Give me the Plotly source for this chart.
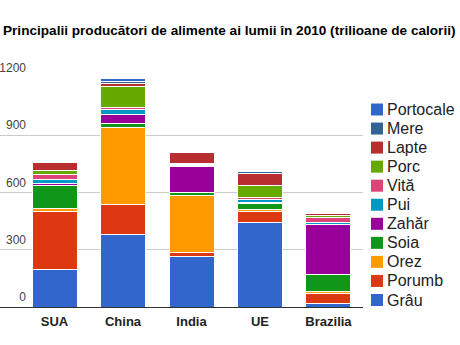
import plotly.graph_objects as go

categories = ["SUA", "China", "India", "UE", "Brazilia"]
series_names = ["Grâu", "Porumb", "Orez", "Soia", "Zahăr", "Pui", "Vită", "Porc", "Lapte", "Mere", "Portocale"]
grau = [196, 379, 264, 445, 16]
porumb = [302, 157, 21, 58, 54]
orez = [17, 407, 300, 7, 10]
soia = [120, 21, 14, 35, 89]
zahar = [10, 47, 136, 4, 262]
pui = [25, 23, 4, 12, 14]
vita = [23, 9, 7, 15, 23]
porc = [24, 110, 7, 60, 11]
lapte = [42, 16, 59, 66, 10]
mere = [5, 15, 3, 7, 4]
portocale = [5, 11, 2, 7, 5]
series_values = [grau, porumb, orez, soia, zahar, pui, vita, porc, lapte, mere, portocale]
colors = ["#3366cc", "#dc3912", "#ff9900", "#109618", "#990099", "#0099c6",
          "#dd4477", "#66aa00", "#b82e2e", "#316395", "#3366cc"]
y_tickvals = [0, 300, 600, 900, 1200]
y_ticktext = ["0", "300", "600", "900", "1200"]
title_text = "Principalii producători de alimente ai lumii în 2010 (trilioane de calorii)"

W, H = 460, 345
ML, MR, MT, MB = 0, 97, 78, 38
PW = W - ML - MR
PH = H - MT - MB
FONT = "Liberation Sans, Arial, sans-serif"

fig = go.Figure()
for name, vals, col in zip(series_names, series_values, colors):
    fig.add_trace(go.Bar(
        x=categories, y=vals, name=name,
        marker=dict(color=col, line=dict(color="white", width=1)),
        showlegend=False,
    ))

# custom legend (Google-charts style, tight spacing)
shapes = []
annotations = []
items = list(zip(series_names, colors))[::-1]
y0px = 109.5
step = 19.05
for i, (name, col) in enumerate(items):
    yc = y0px + step * i
    shapes.append(dict(
        type="rect", xref="paper", yref="paper",
        x0=(371 - ML) / PW, x1=(383 - ML) / PW,
        y0=(MT + PH - (yc + 6)) / PH, y1=(MT + PH - (yc - 6)) / PH,
        fillcolor=col, line=dict(width=0),
    ))
    annotations.append(dict(
        xref="paper", yref="paper", x=(385.5 - ML) / PW, y=(MT + PH - yc) / PH,
        xanchor="left", yanchor="middle", text=name, showarrow=False,
        font=dict(family=FONT, size=16, color="#222222"),
    ))

fig.update_layout(
    width=W, height=H,
    margin=dict(l=ML, r=MR, t=MT, b=MB, pad=0),
    paper_bgcolor="white", plot_bgcolor="white",
    barmode="stack", bargap=0.343,
    title=dict(text="<b>" + title_text + "</b>", x=3 / W, xanchor="left", xref="container",
               y=1 - 30.7 / H, yanchor="middle", yref="container",
               font=dict(family=FONT, size=13.6, color="#000000")),
    shapes=shapes, annotations=annotations,
    xaxis=dict(
        range=[-0.796, 4.504], showgrid=False, zeroline=False,
        showline=True, linecolor="#333333", linewidth=1,
        ticks="", tickfont=dict(family=FONT, size=13, color="#222222", weight="bold"),
        ticklabelstandoff=2, automargin=False,
    ),
    yaxis=dict(
        range=[0, 1200], tickvals=y_tickvals, ticktext=y_ticktext,
        showgrid=True, gridcolor="#cccccc", gridwidth=1, zeroline=False,
        ticks="", tickfont=dict(family=FONT, size=12, color="#444444"),
        ticklabelposition="outside", ticklabelstandoff=-27, ticklabelshift=-10,
        automargin=False,
    ),
    font=dict(family=FONT),
)

fig.write_html("out.html")
